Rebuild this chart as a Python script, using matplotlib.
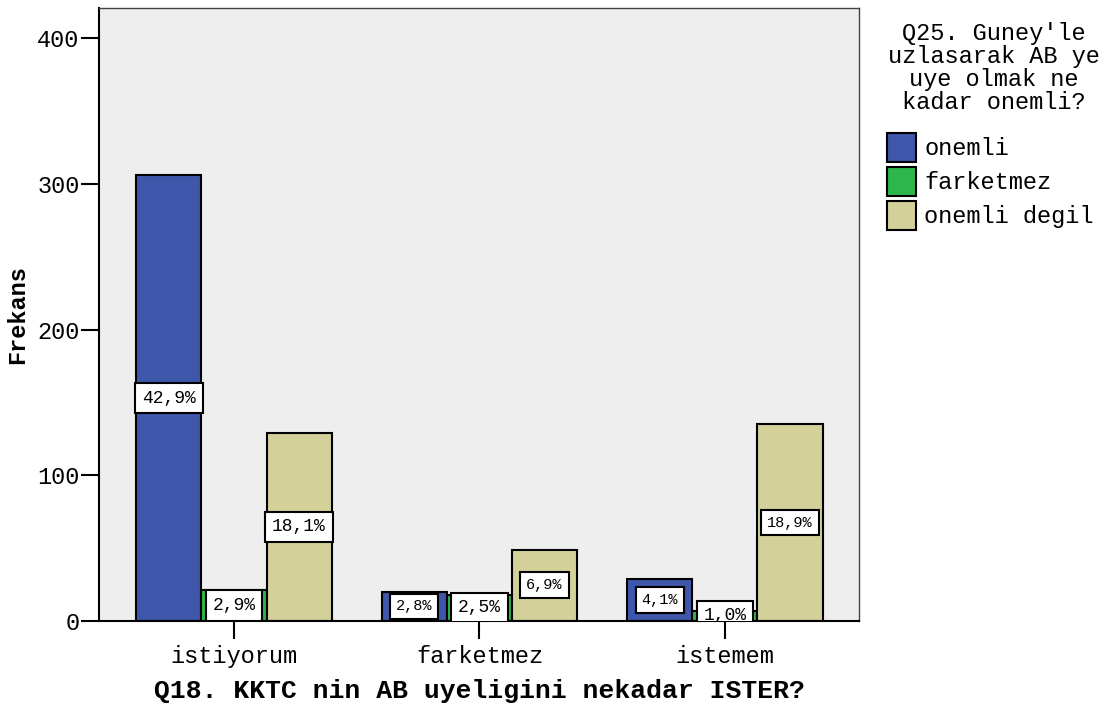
import matplotlib.pyplot as plt
from matplotlib.patches import Patch
import numpy as np

# data
categories = ["istiyorum", "farketmez", "istemem"]
series = ["onemli", "farketmez", "onemli degil"]
onemli = [306, 20, 29]
farketmez = [21, 18, 7]
onemli_degil = [129, 49, 135]
pct_labels = [
    ["42,9%", "2,8%", "4,1%"],
    ["2,9%", "2,5%", "1,0%"],
    ["18,1%", "6,9%", "18,9%"],
]
legend_title = "Q25. Guney'le\nuzlasarak AB ye\nuye olmak ne\nkadar onemli?"

colors = ["#3E57AA", "#2DB64B", "#D4D09A"]
# label font sizes (SPSS shrinks some of them)
pct_sizes = [[13, 11, 11], [13, 13, 13], [13, 11, 11]]

plt.rcParams['font.family'] = ['Liberation Mono', 'DejaVu Sans Mono']

fig = plt.figure(figsize=(11.17, 7.08), dpi=100)
ax = fig.add_axes([99/1117, 87/708, 760/1117, 613/708])
ax.set_facecolor("#EEEEEE")

x = np.arange(len(categories))
width = 0.265
values = [onemli, farketmez, onemli_degil]

for i, (name, vals) in enumerate(zip(series, values)):
    pos = x + (i - 1) * width
    ax.bar(pos, vals, width, color=colors[i], edgecolor="black",
           linewidth=1.5, label=name, zorder=2)
    for j, v in enumerate(vals):
        ax.text(pos[j], v / 2, pct_labels[i][j], ha="center", va="center",
                fontsize=pct_sizes[i][j], clip_on=True, zorder=3,
                bbox=dict(boxstyle="square,pad=0.38", fc="white",
                          ec="black", lw=1.5))

ax.set_xlim(-0.55, 2.546)
ax.set_ylim(0, 420.6)
ax.set_yticks([0, 100, 200, 300, 400])
ax.set_xticks(x)
ax.set_xticklabels(categories)
ax.tick_params(axis="both", labelsize=17, length=13, width=1.5, direction="out")
ax.tick_params(axis="x", pad=4)
ax.tick_params(axis="y", pad=1)

for s in ["left", "bottom"]:
    ax.spines[s].set_linewidth(1.5)
for s in ["top", "right"]:
    ax.spines[s].set_color("#444444")
    ax.spines[s].set_linewidth(1)

ax.set_ylabel("Frekans", fontsize=17, fontweight="bold", labelpad=6)
ax.set_xlabel("Q18. KKTC nin AB uyeligini nekadar ISTER?", fontsize=19,
              fontweight="bold", labelpad=8)

# legend: title as plain text, entries below
fig.text(994/1117, 1 - 68/708, legend_title, ha="center", va="center",
         fontsize=17, linespacing=1.0)
handles = [Patch(facecolor=c, edgecolor="black", linewidth=1.5) for c in colors]
fig.legend(handles, series, loc="upper left",
           bbox_to_anchor=(887/1117, 1 - 133/708),
           fontsize=17, frameon=False, borderpad=0, borderaxespad=0,
           handlelength=1.22, handleheight=1.51, handletextpad=0.35,
           labelspacing=0.21)

fig.savefig("out.png", dpi=100)
